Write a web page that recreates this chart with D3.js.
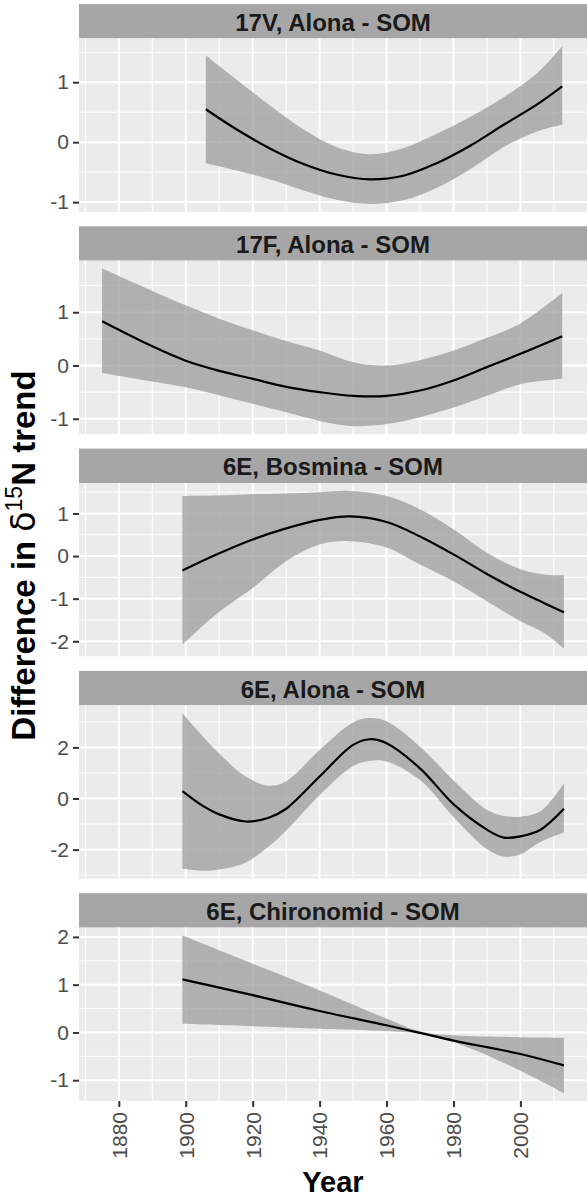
<!DOCTYPE html>
<html>
<head>
<meta charset="utf-8">
<script src="https://cdnjs.cloudflare.com/ajax/libs/d3/7.8.5/d3.min.js"></script>
<style>
  body { margin: 0; background: #fff; }
  text { font-family: "Liberation Sans", Arial, sans-serif; }
</style>
</head>
<body>
<svg id="chart" width="587" height="1200"></svg>
<script>
// panel titles
const titles = ["17V, Alona - SOM", "17F, Alona - SOM", "6E, Bosmina - SOM", "6E, Alona - SOM", "6E, Chironomid - SOM"];

// 17V, Alona - SOM
const years17V = [1906, 1915, 1925, 1935, 1945, 1955, 1965, 1975, 1985, 1995, 2005, 2012.5];
const fit17V   = [0.55, 0.22, -0.10, -0.36, -0.54, -0.62, -0.56, -0.35, -0.06, 0.29, 0.63, 0.93];
const hi17V    = [1.45, 1.05, 0.62, 0.22, -0.08, -0.20, -0.10, 0.14, 0.42, 0.75, 1.15, 1.60];
const lo17V    = [-0.35, -0.47, -0.62, -0.80, -0.96, -1.03, -0.97, -0.76, -0.45, -0.08, 0.18, 0.29];

// 17F, Alona - SOM
const years17F = [1875, 1890, 1900, 1910, 1920, 1930, 1940, 1950, 1960, 1970, 1980, 1990, 2000, 2012.5];
const fit17F   = [0.83, 0.36, 0.09, -0.10, -0.25, -0.40, -0.50, -0.57, -0.57, -0.47, -0.28, -0.03, 0.22, 0.55];
const hi17F    = [1.82, 1.40, 1.13, 0.88, 0.66, 0.46, 0.28, 0.06, 0.00, 0.10, 0.28, 0.52, 0.79, 1.36];
const lo17F    = [-0.14, -0.30, -0.41, -0.56, -0.72, -0.88, -1.04, -1.14, -1.10, -0.97, -0.79, -0.57, -0.35, -0.25];

// 6E, Bosmina - SOM
const years6EB = [1899, 1909, 1920, 1930, 1940, 1949, 1960, 1970, 1980, 1990, 2000, 2007, 2013];
const fit6EB   = [-0.34, 0.03, 0.39, 0.65, 0.85, 0.93, 0.80, 0.46, 0.04, -0.42, -0.84, -1.10, -1.32];
const hi6EB    = [1.41, 1.42, 1.45, 1.47, 1.50, 1.53, 1.41, 1.10, 0.63, 0.08, -0.31, -0.43, -0.45];
const lo6EB    = [-2.08, -1.37, -0.75, -0.12, 0.27, 0.35, 0.20, -0.20, -0.59, -1.06, -1.53, -1.80, -2.17];

// 6E, Alona - SOM
const years6EA = [1899, 1905, 1910, 1918, 1925, 1930, 1940, 1950, 1955, 1960, 1970, 1980, 1990, 1995, 2000, 2006, 2013];
const fit6EA   = [0.29, -0.28, -0.62, -0.90, -0.74, -0.40, 0.86, 2.10, 2.32, 2.16, 1.18, -0.22, -1.22, -1.53, -1.48, -1.22, -0.40];
const hi6EA    = [3.34, 2.45, 1.76, 0.85, 0.50, 0.68, 1.90, 2.98, 3.15, 3.02, 2.03, 0.71, -0.44, -0.68, -0.71, -0.50, 0.60];
const lo6EA    = [-2.75, -2.83, -2.78, -2.50, -1.85, -1.25, 0.13, 1.27, 1.48, 1.45, 0.72, -0.72, -1.98, -2.27, -2.18, -1.70, -1.33];

// 6E, Chironomid - SOM
const years6EC = [1899, 1920, 1940, 1960, 1970, 1980, 2000, 2013];
const fit6EC   = [1.11, 0.78, 0.45, 0.15, -0.01, -0.17, -0.45, -0.69];
const hi6EC    = [2.03, 1.44, 0.88, 0.29, 0.02, -0.06, -0.10, -0.11];
const lo6EC    = [0.18, 0.13, 0.08, 0.03, -0.03, -0.20, -0.80, -1.27];

// tick labels
const yTicks = [[-1, 0, 1], [-1, 0, 1], [-2, -1, 0, 1], [-2, 0, 2], [-1, 0, 1, 2]];
const xTicks = [1880, 1900, 1920, 1940, 1960, 1980, 2000];
const xMinor = [1870, 1890, 1910, 1930, 1950, 1970, 1990, 2010];

const panels = [
  { years: years17V, fit: fit17V, hi: hi17V, lo: lo17V },
  { years: years17F, fit: fit17F, hi: hi17F, lo: lo17F },
  { years: years6EB, fit: fit6EB, hi: hi6EB, lo: lo6EB },
  { years: years6EA, fit: fit6EA, hi: hi6EA, lo: lo6EA },
  { years: years6EC, fit: fit6EC, hi: hi6EC, lo: lo6EC }
];

const svg = d3.select("#chart");
const left = 79, right = 587;
const stripTop0 = 4, stripH = 34.4, panelH = 173.4, step = 222.3;

// ggplot style 5% expansion
const expand = ([a, b]) => { const d = (b - a) * 0.05; return [a - d, b + d]; };

const allYears = panels.flatMap(p => p.years);
const x = d3.scaleLinear().domain(expand(d3.extent(allYears))).range([left, right]);

const area = d3.area().curve(d3.curveCatmullRom);
const line = d3.line().curve(d3.curveCatmullRom);

panels.forEach((p, i) => {
  const sTop = stripTop0 + i * step;
  const pTop = sTop + stripH;
  const pBot = pTop + panelH;

  const y = d3.scaleLinear()
    .domain(expand([d3.min(p.lo), d3.max(p.hi)]))
    .range([pBot, pTop]);

  // minor y breaks between majors
  const maj = yTicks[i];
  const gap = maj[1] - maj[0];
  const yMinor = [maj[0] - gap / 2, ...maj.map(v => v + gap / 2)]
    .filter(v => v > y.domain()[0] && v < y.domain()[1]);

  const g = svg.append("g");

  // strip
  g.append("rect")
    .attr("x", left).attr("y", sTop)
    .attr("width", right - left).attr("height", stripH)
    .attr("fill", "#a6a6a6");
  g.append("text")
    .attr("x", (left + right) / 2).attr("y", sTop + stripH / 2 + 1)
    .attr("text-anchor", "middle").attr("dominant-baseline", "central")
    .attr("font-size", 24).attr("font-weight", "bold").attr("fill", "#1a1a1a")
    .text(titles[i]);

  // panel background
  g.append("rect")
    .attr("x", left).attr("y", pTop)
    .attr("width", right - left).attr("height", panelH)
    .attr("fill", "#ebebeb");

  // grid
  g.selectAll(".ymin").data(yMinor).enter().append("line")
    .attr("x1", left).attr("x2", right)
    .attr("y1", d => y(d)).attr("y2", d => y(d))
    .attr("stroke", "#fff").attr("stroke-width", 1);
  g.selectAll(".xmin").data(xMinor).enter().append("line")
    .attr("x1", d => x(d)).attr("x2", d => x(d))
    .attr("y1", pTop).attr("y2", pBot)
    .attr("stroke", "#fff").attr("stroke-width", 1);
  g.selectAll(".ymaj").data(maj).enter().append("line")
    .attr("x1", left).attr("x2", right)
    .attr("y1", d => y(d)).attr("y2", d => y(d))
    .attr("stroke", "#fff").attr("stroke-width", 2);
  g.selectAll(".xmaj").data(xTicks).enter().append("line")
    .attr("x1", d => x(d)).attr("x2", d => x(d))
    .attr("y1", pTop).attr("y2", pBot)
    .attr("stroke", "#fff").attr("stroke-width", 2);

  // ribbon + fit
  const idx = d3.range(p.years.length);
  g.append("path")
    .attr("d", area.x(j => x(p.years[j])).y0(j => y(p.lo[j])).y1(j => y(p.hi[j]))(idx))
    .attr("fill", "#999").attr("fill-opacity", 0.72);
  g.append("path")
    .attr("d", line.x(j => x(p.years[j])).y(j => y(p.fit[j]))(idx))
    .attr("fill", "none").attr("stroke", "#000").attr("stroke-width", 2.2);

  // y axis
  const yAxis = g.append("g")
    .attr("transform", `translate(${left},0)`)
    .call(d3.axisLeft(y).tickValues(maj).tickSize(6).tickPadding(4).tickFormat(d3.format("d")));
  yAxis.select(".domain").remove();
  yAxis.selectAll(".tick line").attr("stroke", "#333").attr("stroke-width", 2);
  yAxis.selectAll(".tick text")
    .attr("font-size", 21).attr("fill", "#4d4d4d")
    .attr("font-family", "Liberation Sans, Arial, sans-serif")
    .text(d => d < 0 ? "-" + Math.abs(d) : d);

  // x axis only under the last panel
  if (i === panels.length - 1) {
    const xAxis = g.append("g")
      .attr("transform", `translate(0,${pBot})`)
      .call(d3.axisBottom(x).tickValues(xTicks).tickSize(6).tickFormat(d3.format("d")));
    xAxis.select(".domain").remove();
    xAxis.selectAll(".tick line").attr("stroke", "#333").attr("stroke-width", 2);
    xAxis.selectAll(".tick text")
      .attr("font-size", 21).attr("fill", "#4d4d4d")
      .attr("font-family", "Liberation Sans, Arial, sans-serif")
      .attr("transform", "rotate(-90)")
      .attr("text-anchor", "end")
      .attr("x", -11).attr("y", 0).attr("dy", "0.35em");
  }
});

// axis titles
const lastBottom = stripTop0 + 4 * step + stripH + panelH;
svg.append("text")
  .attr("x", (left + right) / 2).attr("y", 1192)
  .attr("text-anchor", "middle")
  .attr("font-size", 29).attr("font-weight", "bold").attr("fill", "#000")
  .text("Year");

const yTitle = svg.append("text")
  .attr("transform", `translate(35,${(stripTop0 + lastBottom) / 2 + 3}) rotate(-90)`)
  .attr("text-anchor", "middle")
  .attr("font-size", 33).attr("font-weight", "bold").attr("fill", "#000");
yTitle.append("tspan").text("Difference in  ");
yTitle.append("tspan").attr("font-weight", "normal").attr("font-family", "DejaVu Sans, sans-serif").text("δ");
yTitle.append("tspan").attr("font-weight", "normal").attr("font-size", 23).attr("dy", -13).text("15");
yTitle.append("tspan").attr("dy", 13).text("N trend");
</script>
</body>
</html>
